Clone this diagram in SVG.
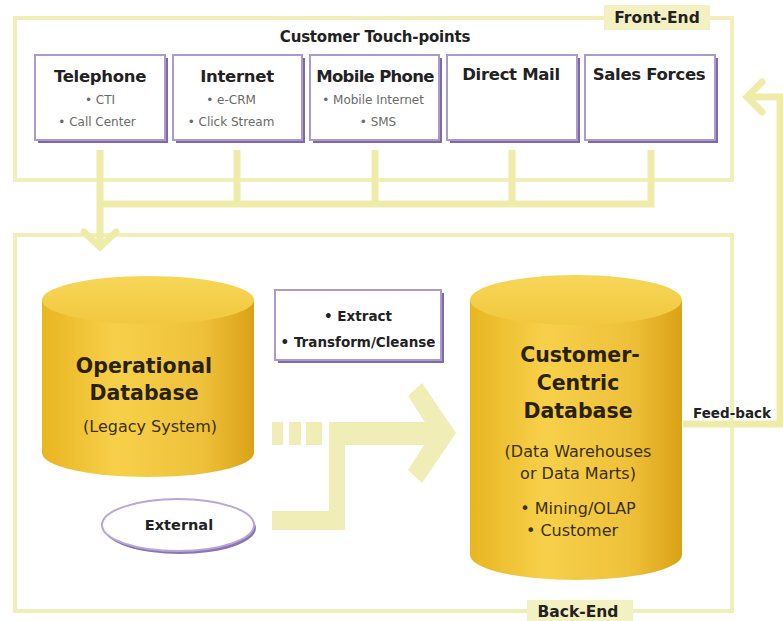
<svg xmlns="http://www.w3.org/2000/svg" width="783" height="621" viewBox="0 0 783 621">
  <defs>
    <linearGradient id="cylBody" x1="0" y1="0" x2="1" y2="0">
      <stop offset="0" stop-color="#e9b521"/>
      <stop offset="0.35" stop-color="#f7d04a"/>
      <stop offset="0.75" stop-color="#efc13a"/>
      <stop offset="1" stop-color="#d9a216"/>
    </linearGradient>
    <linearGradient id="cylTop" x1="0" y1="0" x2="0" y2="1">
      <stop offset="0" stop-color="#f7d657"/>
      <stop offset="1" stop-color="#f1c83f"/>
    </linearGradient>
    <style>
      text { font-family: "DejaVu Sans", "Liberation Sans", sans-serif; text-anchor: middle; }
      .frame { fill: none; stroke: #f1eeb9; stroke-width: 4; }
      .pipe { fill: none; stroke: #efeba8; stroke-width: 7; stroke-linejoin: miter; }
      .flow { fill: #f1edb6; }
      .tag { fill: #f3f0c2; }
      .tagText { font-weight: bold; font-size: 15.5px; fill: #222; }
      .shadow { fill: #7f69aa; }
      .card { fill: #ffffff; stroke: #aa9acd; stroke-width: 2; }
      .title { font-weight: bold; font-size: 16.5px; fill: #222; letter-spacing: -0.3px; }
      .bullet { font-size: 12px; fill: #6a6a6a; }
      .head { font-weight: bold; font-size: 15px; fill: #222; letter-spacing: -0.2px; }
      .dbTitle { font-weight: bold; font-size: 20.5px; fill: #2a2208; }
      .dbSub { font-size: 16px; fill: #3a300c; }
      .small { font-weight: bold; font-size: 13.5px; fill: #222; }
    </style>
  </defs>

  <!-- Region frames -->
  <g id="front-end">
    <rect class="frame" x="15" y="18" width="717" height="162"/>
    <rect class="tag" x="604" y="5" width="106" height="25"/>
    <text class="tagText" x="657" y="23">Front-End</text>
    <text class="head" x="375" y="42">Customer Touch-points</text>
  </g>
  <g id="back-end">
    <rect class="frame" x="15" y="235" width="717" height="376"/>
    <rect class="tag" x="527" y="600" width="106" height="21"/>
    <text class="tagText" x="578" y="617">Back-End</text>
  </g>

  <!-- Connectors -->
  <g id="connectors">
    <!-- touch-points merge into the back-end -->
    <path class="pipe" d="M100 150 V246 M237 150 V204 M375 150 V204 M512 150 V204 M651 150 V204 M96.5 204 H654.5"/>
    <path class="pipe" d="M84 232 L100 247 L116 232" stroke-linecap="round"/>
    <!-- feed-back loop -->
    <path class="pipe" d="M683 424 H780 V97 H750"/>
    <path class="pipe" d="M762 82 L747 97 L762 112" stroke-linecap="round"/>
    <!-- ETL flow into the customer-centric database -->
    <g id="etl-flow">
      <rect class="flow" x="272" y="422" width="11" height="23"/>
      <rect class="flow" x="289" y="422" width="12" height="23"/>
      <rect class="flow" x="306" y="422" width="16" height="23"/>
      <rect class="flow" x="329" y="422" width="112" height="23"/>
      <polygon class="flow" points="408,396 422,383 456,433 422,483 408,470 432,433"/>
      <rect class="flow" x="329" y="422" width="16" height="108"/>
      <rect class="flow" x="272" y="511" width="73" height="19"/>
    </g>
  </g>

  <!-- Touch-point nodes -->
  <g id="telephone">
    <rect class="shadow" x="38" y="58" width="130" height="85"/>
    <rect class="card" x="35" y="55" width="130" height="85"/>
    <text class="title" x="100" y="82">Telephone</text>
    <text class="bullet" x="100" y="104">• CTI</text>
    <text class="bullet" x="97" y="126">• Call Center</text>
  </g>
  <g id="internet">
    <rect class="shadow" x="176" y="58" width="129" height="85"/>
    <rect class="card" x="173" y="55" width="129" height="85"/>
    <text class="title" x="237" y="82">Internet</text>
    <text class="bullet" x="231" y="104">• e-CRM</text>
    <text class="bullet" x="231" y="126">• Click Stream</text>
  </g>
  <g id="mobile-phone">
    <rect class="shadow" x="313" y="58" width="129" height="85"/>
    <rect class="card" x="310" y="55" width="129" height="85"/>
    <text class="title" x="375" y="82" style="letter-spacing:-0.7px">Mobile Phone</text>
    <text class="bullet" x="373" y="104">• Mobile Internet</text>
    <text class="bullet" x="378" y="126">• SMS</text>
  </g>
  <g id="direct-mail">
    <rect class="shadow" x="450" y="58" width="130" height="85"/>
    <rect class="card" x="447" y="55" width="130" height="85"/>
    <text class="title" x="511" y="80">Direct Mail</text>
  </g>
  <g id="sales-forces">
    <rect class="shadow" x="588" y="58" width="130" height="85"/>
    <rect class="card" x="585" y="55" width="130" height="85"/>
    <text class="title" x="649" y="80">Sales Forces</text>
  </g>

  <!-- Back-end nodes -->
  <g id="operational-database">
    <path d="M42 300 V453 A106 24 0 0 0 254 453 V300 Z" fill="url(#cylBody)"/>
    <ellipse cx="148" cy="300" rx="106" ry="24" fill="url(#cylTop)"/>
    <text class="dbTitle" x="144" y="373">Operational</text>
    <text class="dbTitle" x="144" y="400">Database</text>
    <text class="dbSub" x="150" y="432">(Legacy System)</text>
  </g>

  <g id="extract-transform">
    <rect class="shadow" x="278" y="293" width="166" height="70"/>
    <rect class="card" x="275" y="290" width="166" height="70"/>
    <text class="small" x="358" y="321">• Extract</text>
    <text class="small" x="358" y="347">• Transform/Cleanse</text>
  </g>

  <g id="external">
    <ellipse cx="180" cy="528" rx="76" ry="26" fill="#8c75b4"/>
    <ellipse cx="178" cy="525" rx="76" ry="26" fill="#ffffff" stroke="#b7a8d6" stroke-width="2"/>
    <text class="small" x="179" y="530" style="font-size:14.5px">External</text>
  </g>

  <g id="customer-centric-database">
    <path d="M470 300 V555 A106 25 0 0 0 682 555 V300 Z" fill="url(#cylBody)"/>
    <ellipse cx="576" cy="300" rx="106" ry="25" fill="url(#cylTop)"/>
    <text class="dbTitle" x="580" y="362">Customer-</text>
    <text class="dbTitle" x="578" y="390">Centric</text>
    <text class="dbTitle" x="578" y="418">Database</text>
    <text class="dbSub" x="578" y="457">(Data Warehouses</text>
    <text class="dbSub" x="578" y="479">or Data Marts)</text>
    <text class="dbSub" x="578" y="514">• Mining/OLAP</text>
    <text class="dbSub" x="572" y="536">• Customer</text>
  </g>

  <text class="small" x="732" y="418">Feed-back</text>
</svg>
